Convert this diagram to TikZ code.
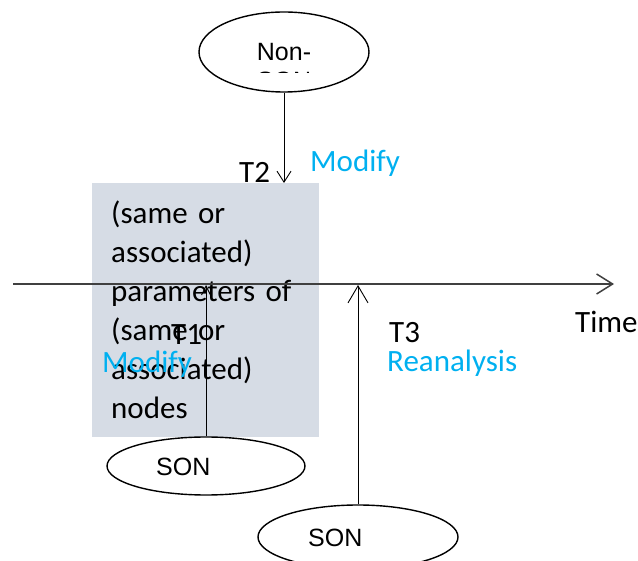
\documentclass[tikz,border=0pt]{standalone}
\usepackage{fontspec}
\setmainfont{Carlito}
\newfontfamily\arialfont{Liberation Sans}
\usepackage{tikz}
\usetikzlibrary{shapes,arrows.meta}
\usetikzlibrary{positioning}

\definecolor{boxgray}{RGB}{214,220,229}
\definecolor{actblue}{RGB}{0,176,240}
\definecolor{axisgray}{RGB}{64,64,64}

\begin{document}
\begin{tikzpicture}[x=1pt,y=-1pt,every node/.style={inner sep=0pt},
  entity/.style={draw,ellipse,line width=1.4pt},
  entitytext/.style={font=\arialfont\fontsize{25}{29}\selectfont},
  tlabel/.style={anchor=base west,font=\fontsize{31}{39}\selectfont},
  actlabel/.style={tlabel,text=actblue},
  parambox/.style={fill=boxgray,align=left,font=\fontsize{31}{39}\selectfont},
  timeaxis/.style={draw=axisgray,line width=1.5pt,-{Straight Barb[length=16pt,width=20pt]}},
  event/.style={draw,line width=0.9pt}]

  \useasboundingbox (0,0) rectangle (638,561);

  % parameters
  \node[parambox,anchor=north west,minimum width=227pt,minimum height=254pt,
    text width=189pt,inner xsep=19pt] (params) at (92,183)
    {(same or\\associated)\\parameters of\\(same or\\associated)\\nodes};

  % time axis
  \coordinate (tstart) at (13,284);
  \coordinate (tend) at (614,284);
  \draw[timeaxis] (tstart) -- (tend);
  \node[tlabel] (time) at (575,333) {Time};

  % entities
  \node[entity,minimum width=170pt,minimum height=80pt] (nonson) at (284,52) {};
  \node[entity,minimum width=198pt,minimum height=58pt] (son1) at (206,466) {};
  \node[entity,minimum width=200pt,minimum height=64pt] (son2) at (358,537) {};

  \begin{scope}
    \clip (190,0) rectangle (380,73);
    \node[entitytext,align=center,anchor=base] (nonsontxt) at (284,90) {Non-\\SON};
  \end{scope}
  \node[entitytext,anchor=base west] (son1txt) at (156,476) {SON};
  \node[entitytext,anchor=base west] (son2txt) at (308,547) {SON};

  % events
  \coordinate (t1) at (206,285);
  \coordinate (t2) at (284,183);
  \coordinate (t3) at (358,285);
  \draw[event,-{Straight Barb[length=9pt,width=9pt]}] (son1.north) -- (t1);
  \draw[event,-{Straight Barb[length=11pt,width=14pt]}] (nonson.south) -- (t2);
  \draw[event,-{Straight Barb[length=17pt,width=20pt]}] (son2.north) -- (t3);

  \node[tlabel] (t2txt) at (239,183) {T2};
  \node[actlabel] (mod2) at (310,172) {Modify};
  \node[tlabel] (t1txt) at (171,345) {T1};
  \node[actlabel] (mod1) at (102,373) {Modify};
  \node[tlabel] (t3txt) at (389,343) {T3};
  \node[actlabel] (reana) at (387,372) {Reanalysis};
\end{tikzpicture}
\end{document}
